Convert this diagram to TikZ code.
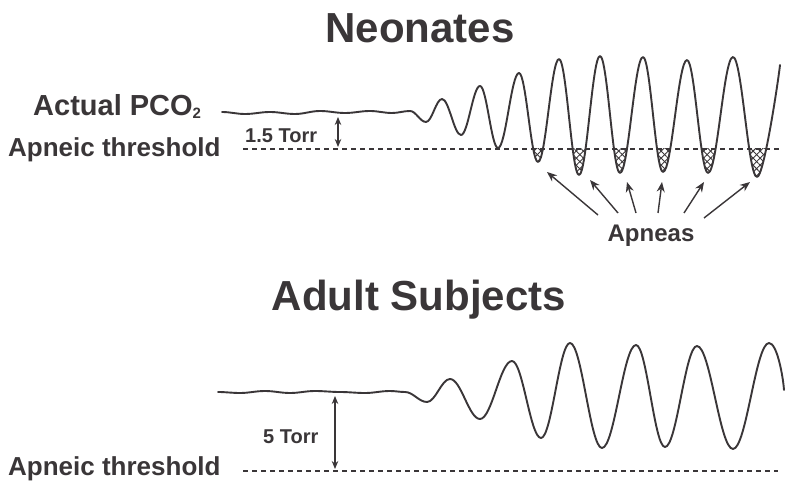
\documentclass[tikz,border=0pt]{standalone}
\usepackage{fontspec}
\setmainfont{Liberation Sans}
\usetikzlibrary{arrows.meta,patterns.meta}
\definecolor{ink}{RGB}{58,54,56}
\begin{document}
\begin{tikzpicture}[x=1pt,y=-1pt,
  lbl/.style={inner sep=0pt,text=ink,font=\bfseries},
  curve/.style={draw=ink,line width=1.9pt,line join=round,line cap=round},
  thresh/.style={draw=ink,line width=1.2pt,dash pattern=on 5pt off 4pt},
  dim/.style={draw=ink,line width=1.2pt,{Stealth[length=8pt,width=6.5pt]}-{Stealth[length=8pt,width=6.5pt]}},
  ptr/.style={draw=ink,line width=1.4pt,-{Stealth[length=10pt,width=8pt]}},
  hatchA/.style={pattern={Lines[angle=45,distance=5pt,line width=0.9pt]},pattern color=ink},
  hatchB/.style={pattern={Lines[angle=-45,distance=5pt,line width=0.9pt]},pattern color=ink}]
\useasboundingbox[fill=white] (0,0) rectangle (800,494);

% ---------- text ----------
\node[lbl,anchor=base] (t1) at (420,43) {\fontsize{42}{48}\selectfont Neonates};
\node[lbl,anchor=base] (t2) at (419,310) {\fontsize{42}{48}\selectfont Adult Subjects};
\node[lbl,anchor=base west] (pco) at (33,116) {\fontsize{29}{34}\selectfont Actual PCO\raisebox{-3pt}{\fontsize{15}{16}\selectfont 2}};
\node[lbl,anchor=base west] (thr1) at (8,157) {\fontsize{26}{30}\selectfont Apneic threshold};
\node[lbl,anchor=base west] (torr1) at (245,143) {\fontsize{20}{24}\selectfont 1.5 Torr};
\node[lbl,anchor=base] (apn) at (651,242) {\fontsize{24}{28}\selectfont Apneas};
\node[lbl,anchor=base west] (thr2) at (8,475) {\fontsize{26}{30}\selectfont Apneic threshold};
\node[lbl,anchor=base west] (torr2) at (263,443) {\fontsize{20}{24}\selectfont 5 Torr};

% ---------- neonates ----------
\def\neopts{245/114,270/112,295/114,320/111,345/113,370/111,392/113,410/111,426/122,442/99,461/135,480/86,498/148,519/73,538/162,559/59,579/175,600/56,620/173,643/57,663/172,687/60,708/173,733/57,757/177}
\def\neopath{(222,112) \foreach \x/\y [remember=\x as \px (initially 222)] in \neopts { .. controls +({0.37*(\x-\px)},0) and +({-0.37*(\x-\px)},0) .. (\x,\y) } .. controls +(7,0) and +(-1.5,14) .. (780,65)}

\begin{scope}
  \clip (0,149) rectangle (800,494);
  \fill[hatchA] \neopath -- (780,0) -- (222,0) -- cycle;
  \fill[hatchB] \neopath -- (780,0) -- (222,0) -- cycle;
\end{scope}
\draw[thresh] (243,149) -- (780,149);
\draw[curve] \neopath;

\coordinate (a1) at (338,117);
\coordinate (b1) at (338,147);
\draw[dim] (a1) -- (b1);

% apnea pointers
\coordinate (s1) at (598,215); \coordinate (e1) at (547,172);
\coordinate (s2) at (618,213); \coordinate (e2) at (590,180);
\coordinate (s3) at (636,213); \coordinate (e3) at (627,182);
\coordinate (s4) at (658,213); \coordinate (e4) at (662,182);
\coordinate (s5) at (684,213); \coordinate (e5) at (704,182);
\coordinate (s6) at (704,218); \coordinate (e6) at (750,182);
\foreach \i in {1,...,6} \draw[ptr] (s\i) -- (e\i);

% ---------- adults ----------
\def\adpts{240/393,265/391,290/393,315/391,340/392,365/393,390/391,405/392,427/402,450/379,480/419,512/361,541/438,570/343,602/448,636/345,665/447,697/346,733/449,769/343}
\draw[thresh] (243,471) -- (778,471);
\draw[curve] (218,392) \foreach \x/\y [remember=\x as \px (initially 218)] in \adpts { .. controls +({0.37*(\x-\px)},0) and +({-0.37*(\x-\px)},0) .. (\x,\y) } .. controls +(8,0) and +(-1,-14) .. (784,390);

\coordinate (a2) at (335,396);
\coordinate (b2) at (335,469);
\draw[dim] (a2) -- (b2);
\end{tikzpicture}
\end{document}
